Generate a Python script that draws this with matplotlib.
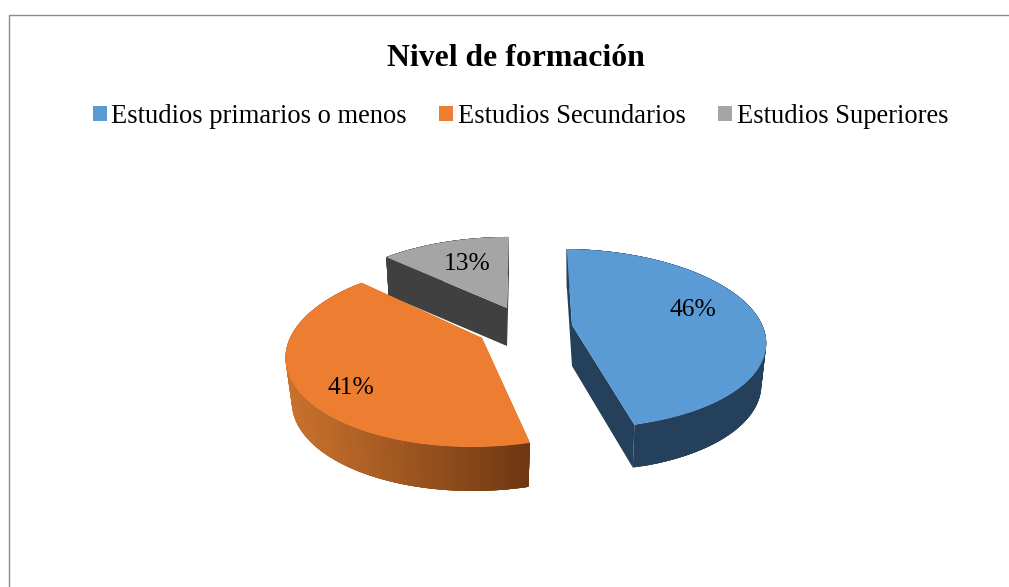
import numpy as np
import matplotlib
matplotlib.use("Agg")
import matplotlib.pyplot as plt
from matplotlib.patches import Polygon, Patch
from matplotlib.colors import to_rgb

categories = ["Estudios primarios o menos", "Estudios Secundarios", "Estudios Superiores"]
values = [46, 41, 13]
title_text = "Nivel de formación"

top_colors = ["#5b9bd5", "#ed7d31", "#a5a5a5"]
# apex, Rx, Ry, shear x, shear y, perspective, wall depth, bottom-rim scales
geom = [
    dict(a=(572, 325), rx=191, ry=87.4, s=-6, t=2, k=0.15, depth=41, sx=0.975, sy=1.02, dx=0),
    dict(a=(482, 338), rx=192, ry=90.2, s=8, t=0, k=0.172, depth=44, sx=0.968, sy=1.0, dx=0),
    dict(a=(507, 308), rx=186, ry=82.4, s=2.3, t=0, k=0.16, depth=38, sx=0.98, sy=0.99, dx=0),
]
wall_left = ["#24405a", "#c9712d", "#404040"]
wall_right = ["#24405a", "#693410", "#404040"]
label_pos = [(692.5, 310), (351, 388), (467.5, 264)]

W, H = 1009, 587
plt.rcParams["font.family"] = ["Liberation Serif", "DejaVu Serif"]
fig = plt.figure(figsize=(W / 100, H / 100), dpi=100)
ax = fig.add_axes([0, 0, 1, 1])
ax.set_xlim(0, W)
ax.set_ylim(H, 0)
ax.axis("off")

px = 0.72  # points per pixel at 100 dpi


def project(g, theta, sx=1.0, sy=1.0, dy=0.0, dx=0.0):
    u, v = np.sin(theta), np.cos(theta)
    w = 1 + g["k"] * v
    x = g["a"][0] + dx + sx * (g["rx"] * u + g["s"] * v) / w
    y = g["a"][1] + dy - sy * (g["ry"] * v - g["t"] * u) / w
    return np.column_stack([x, y])


edges = np.cumsum([0] + values) / sum(values) * 2 * np.pi
order = [2, 0, 1]  # gray is furthest back

for i in order:
    g = geom[i]
    th = np.linspace(edges[i], edges[i + 1], 121)
    top = project(g, th)
    bot = project(g, th, g["sx"], g["sy"], g["depth"], g["dx"])
    apex_top = np.array(g["a"], dtype=float)
    apex_bot = apex_top + [g["dx"], g["depth"]]
    # radial side faces
    for end_t, end_b in ((top[0], bot[0]), (top[-1], bot[-1])):
        ax.add_patch(Polygon([apex_top, end_t, end_b, apex_bot], closed=True,
                             fc=wall_right[i] if i == 0 else wall_left[i], ec="none", zorder=2))
    # outer wall, shaded by horizontal position; each quad overlaps the next to hide seams
    xmin, xmax = top[:, 0].min(), top[:, 0].max()
    c0, c1 = np.array(to_rgb(wall_left[i])), np.array(to_rgb(wall_right[i]))
    for j in range(len(th) - 1):
        f = (top[j, 0] - xmin) / (xmax - xmin)
        c = c0 + (c1 - c0) * f
        j0 = max(j - 3, 0)
        ax.add_patch(Polygon(np.vstack([top[j0:j + 2], bot[j0:j + 2][::-1]]), closed=True,
                             fc=c, ec="none", zorder=2))
    # top surface
    ax.add_patch(Polygon(np.vstack([apex_top, top]), closed=True, fc=top_colors[i], ec="none", zorder=3))
    ax.text(*label_pos[i], f"{values[i]}%", ha="center", va="center",
            fontsize=25.5 * px, color="black", zorder=4)

# chart frame
ax.plot([9.2, 9.2, W], [H, 15.2, 15.2], color="#8c8c8c", lw=1.0, solid_joinstyle="miter", zorder=1)

ax.text(515.5, 58.5, title_text, ha="center", va="center", fontsize=31.8 * px,
        fontweight="bold", color="black")

handles = [Patch(fc=c, ec="none") for c in top_colors]
leg = ax.legend(handles, categories, loc="center", bbox_to_anchor=(520.5 / W, 1 - 116.5 / H),
                ncol=3, frameon=False, fontsize=26.5 * px, handlelength=0.53, handleheight=0.53,
                handletextpad=0.17, columnspacing=1.22, borderpad=0, borderaxespad=0)

fig.savefig("out.png", dpi=100, facecolor="white")
